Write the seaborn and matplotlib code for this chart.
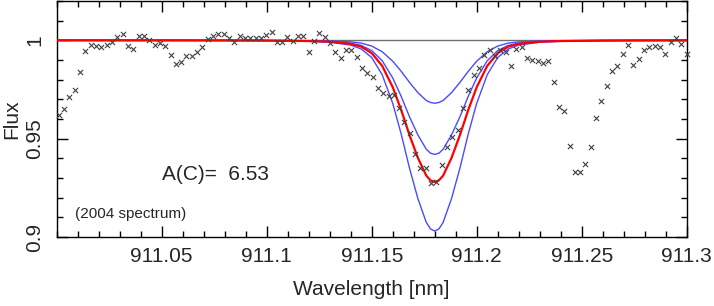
import numpy as np
import pandas as pd
import seaborn as sns
import matplotlib.pyplot as plt
from matplotlib.ticker import MultipleLocator, FixedLocator, FixedFormatter

## Observed spectrum (crosses)
wave_obs = [911.0010, 911.0035, 911.0060, 911.0086, 911.0111, 911.0136, 911.0162, 911.0187,
            911.0212, 911.0238, 911.0263, 911.0288, 911.0314, 911.0339, 911.0364, 911.0390,
            911.0415, 911.0440, 911.0466, 911.0491, 911.0516, 911.0542, 911.0567, 911.0592,
            911.0618, 911.0643, 911.0668, 911.0694, 911.0719, 911.0744, 911.0770, 911.0795,
            911.0820, 911.0846, 911.0871, 911.0896, 911.0922, 911.0947, 911.0972, 911.0998,
            911.1023, 911.1048, 911.1074, 911.1099, 911.1124, 911.1150, 911.1175, 911.1200,
            911.1226, 911.1251, 911.1276, 911.1302, 911.1327, 911.1352, 911.1378, 911.1403,
            911.1428, 911.1454, 911.1479, 911.1504, 911.1530, 911.1555, 911.1580, 911.1606,
            911.1631, 911.1656, 911.1682, 911.1707, 911.1732, 911.1758, 911.1783, 911.1808,
            911.1834, 911.1859, 911.1884, 911.1910, 911.1935, 911.1960, 911.1986, 911.2011,
            911.2036, 911.2062, 911.2087, 911.2112, 911.2138, 911.2163, 911.2188, 911.2214,
            911.2239, 911.2264, 911.2290, 911.2315, 911.2340, 911.2366, 911.2391, 911.2416,
            911.2442, 911.2467, 911.2492, 911.2518, 911.2543, 911.2568, 911.2594, 911.2619,
            911.2644, 911.2670, 911.2695, 911.2720, 911.2746, 911.2771, 911.2796, 911.2822,
            911.2847, 911.2872, 911.2898, 911.2923, 911.2948, 911.2974, 911.2999]
flux_obs = [0.9618, 0.9650, 0.9711, 0.9747, 0.9840, 0.9944, 0.9975, 0.9973,
            0.9966, 0.9978, 0.9992, 1.0017, 1.0033, 0.9969, 0.9956, 1.0024,
            1.0020, 1.0000, 0.9976, 0.9987, 0.9969, 0.9927, 0.9879, 0.9888,
            0.9922, 0.9918, 0.9939, 0.9964, 1.0007, 1.0020, 1.0033, 1.0033,
            1.0010, 0.9993, 1.0020, 1.0010, 1.0010, 1.0010, 1.0012, 1.0029,
            1.0041, 0.9990, 0.9993, 1.0017, 0.9997, 1.0020, 1.0020, 0.9941,
            0.9995, 1.0038, 1.0017, 0.9985, 0.9943, 0.9910, 0.9951, 0.9951,
            0.9915, 0.9859, 0.9835, 0.9813, 0.9760, 0.9733, 0.9718, 0.9724,
            0.9655, 0.9587, 0.9531, 0.9422, 0.9352, 0.9349, 0.9274, 0.9281,
            0.9366, 0.9457, 0.9508, 0.9546, 0.9657, 0.9745, 0.9825, 0.9859,
            0.9927, 0.9949, 0.9918, 0.9949, 0.9939, 0.9871, 0.9956, 0.9964,
            0.9910, 0.9902, 0.9893, 0.9885, 0.9893, 0.9786, 0.9663, 0.9643,
            0.9463, 0.9332, 0.9332, 0.9371, 0.9456, 0.9607, 0.9692, 0.9769,
            0.9845, 0.9872, 0.9930, 0.9976, 0.9874, 0.9905, 0.9949, 0.9966,
            0.9973, 0.9966, 0.9932, 0.9992, 1.0012, 0.9982, 0.9930]

## Synthetic profiles
wave_model = [911.00, 911.06, 911.08, 911.10, 911.12, 911.13, 911.14, 911.145,
              911.15, 911.155, 911.16, 911.164, 911.168, 911.172, 911.176, 911.178,
              911.18, 911.182, 911.184, 911.188, 911.192, 911.196, 911.20, 911.205,
              911.21, 911.215, 911.22, 911.23, 911.24, 911.26, 911.28, 911.30]
flux_best = [1.0, 0.99999, 0.99996, 0.99989, 0.99964, 0.9993, 0.9982, 0.9968,
             0.9935, 0.9870, 0.9762, 0.9647, 0.9518, 0.9402, 0.9312, 0.9288,
             0.9280, 0.9288, 0.9312, 0.9402, 0.9518, 0.9647, 0.9762, 0.9870,
             0.9935, 0.9968, 0.9982, 0.9993, 0.99964, 0.99989, 0.99996, 0.99999]
flux_weak = [1.0, 0.99999, 0.99998, 0.99995, 0.9998, 0.9997, 0.9992, 0.9986,
             0.9971, 0.9942, 0.9894, 0.9843, 0.9786, 0.9734, 0.9694, 0.9684,
             0.9680, 0.9684, 0.9694, 0.9734, 0.9786, 0.9843, 0.9894, 0.9942,
             0.9971, 0.9986, 0.9992, 0.9997, 0.9998, 0.99995, 0.99998, 0.99999]
flux_mid = [1.0, 0.99999, 0.99997, 0.99991, 0.99971, 0.99942, 0.99855, 0.9974,
            0.9948, 0.9896, 0.9809, 0.9716, 0.9611, 0.9519, 0.9446, 0.9426,
            0.9420, 0.9426, 0.9446, 0.9519, 0.9611, 0.9716, 0.9809, 0.9896,
            0.9948, 0.9974, 0.99855, 0.99942, 0.99971, 0.99991, 0.99997, 0.99999]
flux_strong = [1.0, 0.99998, 0.99995, 0.99985, 0.99951, 0.99903, 0.9976, 0.9956,
               0.9913, 0.9825, 0.9680, 0.9525, 0.9350, 0.9195, 0.9074, 0.9041,
               0.9030, 0.9041, 0.9074, 0.9195, 0.9350, 0.9525, 0.9680, 0.9825,
               0.9913, 0.9956, 0.9976, 0.99903, 0.99951, 0.99985, 0.99995, 0.99998]
continuum = 1.0

x_ticks = [911.05, 911.1, 911.15, 911.2, 911.25, 911.3]
x_ticklabels = ['911.05', '911.1', '911.15', '911.2', '911.25', '911.3']
y_ticks = [0.9, 0.95, 1.0]
y_ticklabels = ['0.9', '0.95', '1']

sns.set_style('ticks')
plt.rcParams['font.family'] = ['Liberation Sans', 'DejaVu Sans']

fig = plt.figure(figsize=(7.14, 3.06), dpi=100)
ax = fig.add_axes([0.0794, 0.2255, 0.8824, 0.7712])

ax.axhline(continuum, color='#707070', linewidth=1.0, zorder=1)
for fl in [flux_weak, flux_mid, flux_strong]:
    sns.lineplot(x=wave_model, y=fl, ax=ax, color='#4a4aff', linewidth=1.0,
                 sort=False, estimator=None, zorder=2)
sns.lineplot(x=wave_model, y=flux_best, ax=ax, color='#ff0000', linewidth=1.6,
             sort=False, estimator=None, zorder=3)
sns.scatterplot(x=wave_obs, y=flux_obs, ax=ax, marker='x', color='#404040',
                s=14, linewidth=0.8, zorder=4, clip_on=False)

ax.set_xlim(911.0, 911.3)
ax.set_ylim(0.9, 1.02)
ax.xaxis.set_major_locator(FixedLocator(x_ticks))
ax.xaxis.set_major_formatter(FixedFormatter(x_ticklabels))
ax.xaxis.set_minor_locator(MultipleLocator(0.01))
ax.yaxis.set_major_locator(FixedLocator(y_ticks))
ax.yaxis.set_major_formatter(FixedFormatter(y_ticklabels))
ax.yaxis.set_minor_locator(MultipleLocator(0.01))
ax.tick_params(which='both', direction='in', top=True, right=True, color='black', width=1)
ax.tick_params(which='major', length=8)
ax.tick_params(which='minor', length=4.5)
ax.tick_params(axis='x', labelsize=15, pad=7)
ax.tick_params(axis='y', labelsize=15, pad=9)
for lab in ax.get_yticklabels():
    lab.set_rotation(90)
    lab.set_va('center')
for sp in ax.spines.values():
    sp.set_linewidth(1.0)
    sp.set_color('black')

ax.set_xlabel('Wavelength [nm]', fontsize=15, labelpad=10)
ax.set_ylabel('Flux', fontsize=15, labelpad=3)

ax.text(911.0501, 0.9316, 'A(C)=  6.53', fontsize=15, va='center', ha='left')
ax.text(911.0087, 0.9117, '(2004 spectrum)', fontsize=11, va='center', ha='left')

fig.savefig('out.png', dpi=100)
